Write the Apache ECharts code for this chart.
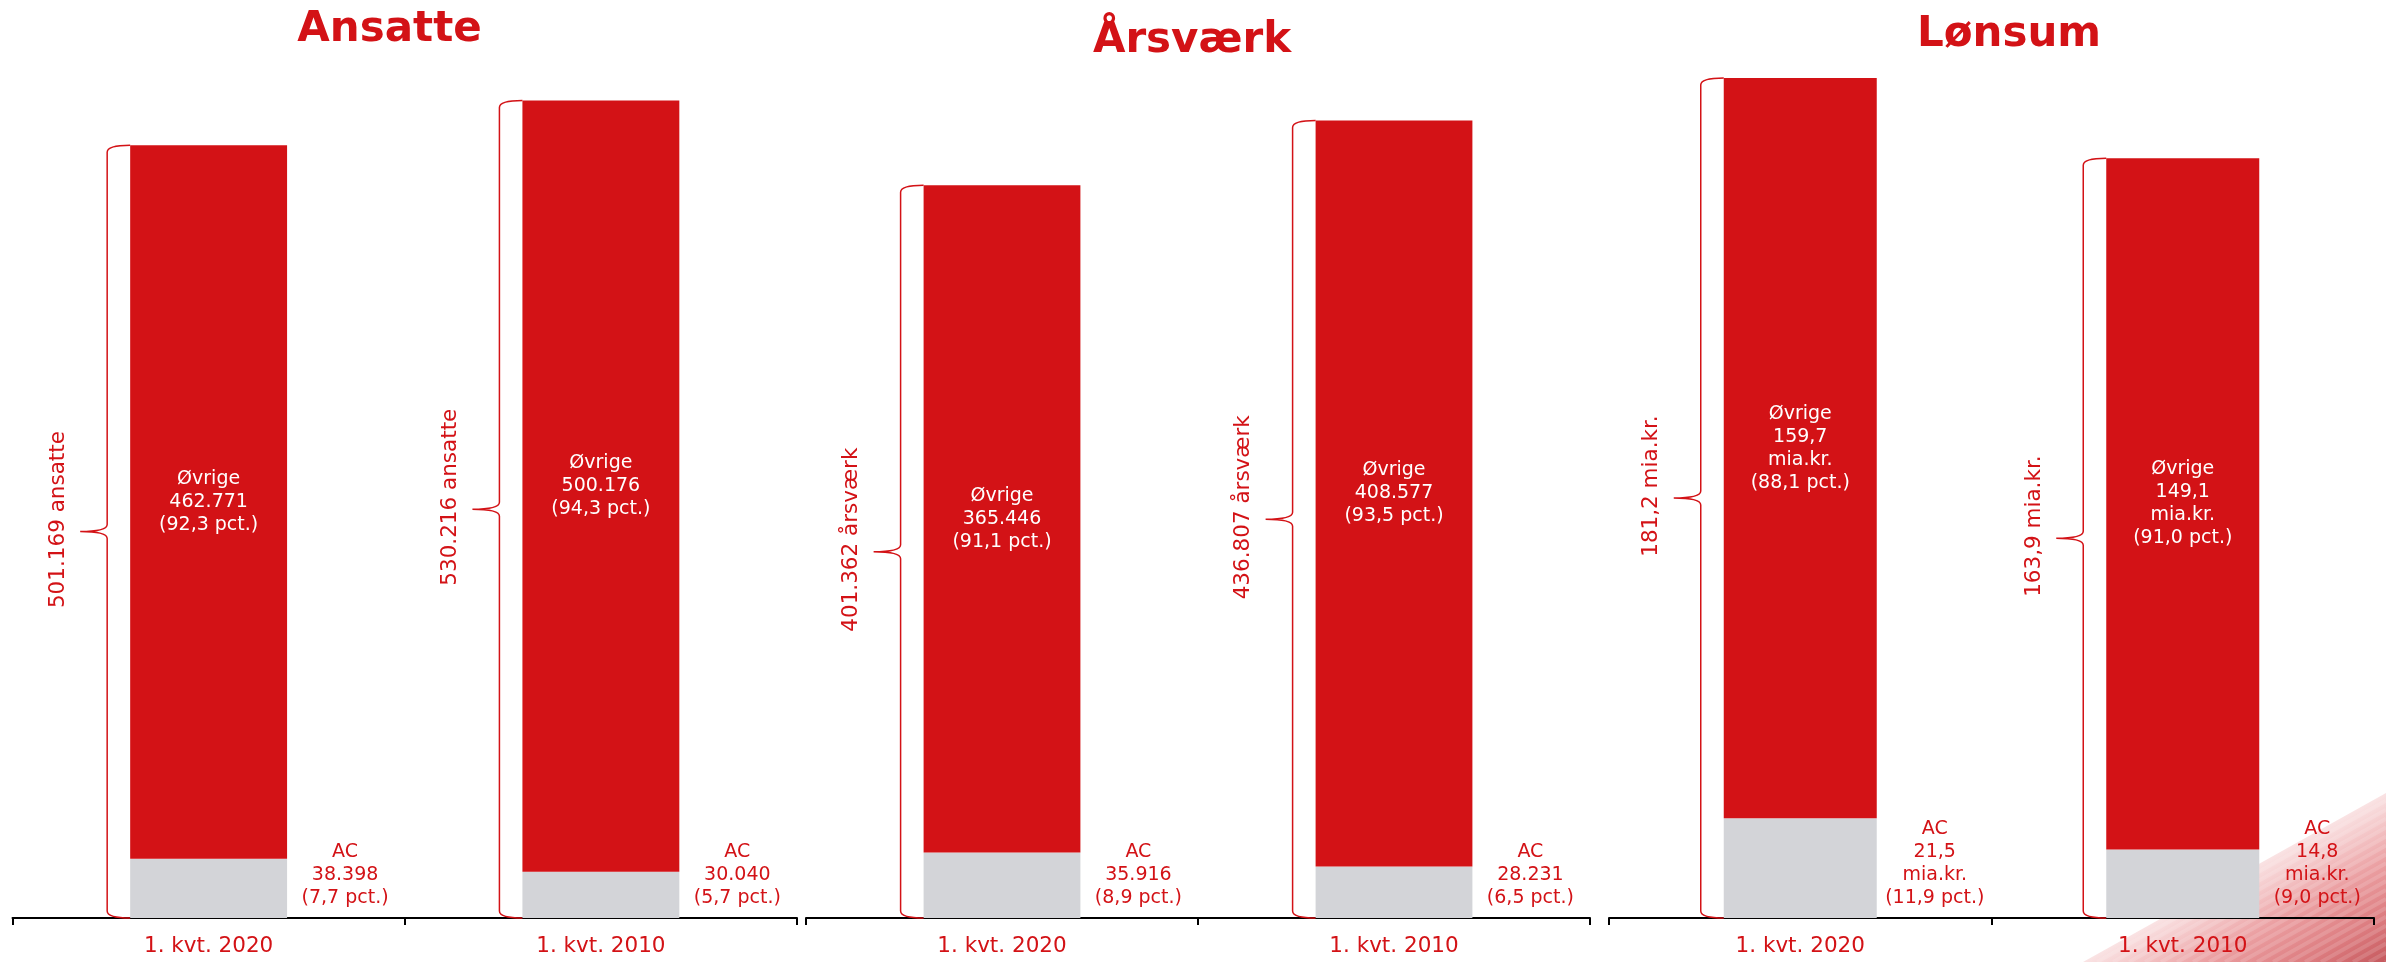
<!DOCTYPE html>
<html>
<head>
<meta charset="utf-8">
<script src="https://cdn.jsdelivr.net/npm/echarts@6/dist/echarts.min.js"></script>
<style>
  html, body { margin: 0; padding: 0; background: #fff; }
  #chart { width: 2386px; height: 962px; }
</style>
</head>
<body>
<div id="chart"></div>
<script>
// Chart Data
const categories = ["1. kvt. 2020", "1. kvt. 2010"];
const panelTitles = ["Ansatte", "Årsværk", "Lønsum"];

const ansatteAC = [38398, 30040];
const ansatteOvrige = [462771, 500176];
const ansatteTotal = [501169, 530216];

const aarsvaerkAC = [35916, 28231];
const aarsvaerkOvrige = [365446, 408577];
const aarsvaerkTotal = [401362, 436807];

const lonsumAC = [21.5, 14.8];
const lonsumOvrige = [159.7, 149.1];
const lonsumTotal = [181.2, 163.9];

// Styles
const RED = "#d31216";
const GRAY = "#d3d4d8";
const FONT = '"DejaVu Sans", Verdana, sans-serif';

const thousands = (v) => String(v).replace(/\B(?=(\d{3})+(?!\d))/g, ".");
const decimal = (v) => v.toFixed(1).replace(".", ",");
const pct = (v, t) => (v / t * 100).toFixed(1).replace(".", ",");

const panels = [
  { ac: ansatteAC, ovr: ansatteOvrige, total: ansatteTotal, fmt: thousands, unit: "ansatte", inUnit: null, yMax: 556400 },
  { ac: aarsvaerkAC, ovr: aarsvaerkOvrige, total: aarsvaerkTotal, fmt: thousands, unit: "årsværk", inUnit: null, yMax: 470000 },
  { ac: lonsumAC, ovr: lonsumOvrige, total: lonsumTotal, fmt: decimal, unit: "mia.kr.", inUnit: "mia.kr.", yMax: 185.1 },
];

const gridPos = [
  { left: 12.5, width: 784.5 },
  { left: 806, width: 784 },
  { left: 1609, width: 765 },
];

const titlePos = [[389.5, 30], [1192, 41], [2009, 35.5]];

function segLabel(name, v, p, i) {
  const lines = [name, p.fmt(v)];
  if (p.inUnit) lines.push(p.inUnit);
  lines.push("(" + pct(v, p.total[i]) + " pct.)");
  return lines.join("\n");
}

// curly brace left of each bar, drawn through the axis scale
function braceRenderer(p) {
  return function (params, api) {
    const top = api.coord([api.value(0), api.value(1)]);
    const bot = api.coord([api.value(0), 0]);
    const bw = api.size([1, 0])[0] * 0.4;
    const bl = top[0] - bw / 2;
    const xl = bl - 23;
    const xt = bl - 50;
    const yt = top[1], yb = bot[1], ym = (yt + yb) / 2;
    const path =
      "M" + bl + " " + yt +
      " Q" + xl + " " + yt + " " + xl + " " + (yt + 7) +
      " L" + xl + " " + (ym - 7) +
      " Q" + xl + " " + ym + " " + xt + " " + ym +
      " Q" + xl + " " + ym + " " + xl + " " + (ym + 7) +
      " L" + xl + " " + (yb - 7) +
      " Q" + xl + " " + yb + " " + bl + " " + yb;
    return {
      type: "group",
      children: [
        {
          type: "path",
          shape: { pathData: path },
          style: { fill: null, stroke: RED, lineWidth: 1.5 },
        },
        {
          type: "text",
          x: bl - 72,
          y: ym - 12,
          rotation: Math.PI / 2,
          style: {
            text: p.fmt(p.total[params.dataIndex]) + " " + p.unit,
            fill: RED,
            font: "21.5px " + FONT,
            align: "center",
            verticalAlign: "middle",
          },
        },
      ],
    };
  };
}

const chart = echarts.init(document.getElementById("chart"), null, { renderer: "canvas" });

const grid = [], xAxis = [], yAxis = [], series = [];

panels.forEach((p, k) => {
  grid.push({
    left: gridPos[k].left,
    width: gridPos[k].width,
    top: 60,
    bottom: 44,
    containLabel: false,
    outerBoundsMode: "none",
  });
  xAxis.push({
    type: "category",
    gridIndex: k,
    data: categories,
    boundaryGap: true,
    axisLine: { show: true, lineStyle: { color: "#000", width: 2 } },
    axisTick: { show: true, length: 7, interval: 0, lineStyle: { color: "#000", width: 2 } },
    axisLabel: { color: RED, fontSize: 21.5, fontFamily: FONT, margin: 17, interval: 0 },
    splitLine: { show: false },
  });
  yAxis.push({
    type: "value",
    gridIndex: k,
    min: 0,
    max: p.yMax,
    show: false,
    splitLine: { show: false },
  });
  series.push({
    name: "AC",
    type: "bar",
    xAxisIndex: k,
    yAxisIndex: k,
    stack: "s" + k,
    barWidth: "40%",
    itemStyle: { color: GRAY },
    label: {
      show: true,
      position: ["100%", "100%"],
      offset: [58, -9],
      align: "center",
      verticalAlign: "bottom",
      color: RED,
      fontSize: 19,
      lineHeight: 22.7,
      fontFamily: FONT,
      formatter: (d) => segLabel("AC", d.value, p, d.dataIndex),
    },
    data: p.ac,
  });
  series.push({
    name: "Øvrige",
    type: "bar",
    xAxisIndex: k,
    yAxisIndex: k,
    stack: "s" + k,
    barWidth: "40%",
    itemStyle: { color: RED },
    label: {
      show: true,
      position: "inside",
      color: "#fff",
      fontSize: 19,
      lineHeight: 23,
      fontFamily: FONT,
      formatter: (d) => segLabel("Øvrige", d.value, p, d.dataIndex),
    },
    data: p.ovr,
  });
  series.push({
    type: "custom",
    xAxisIndex: k,
    yAxisIndex: k,
    renderItem: braceRenderer(p),
    silent: true,
    data: p.total.map((t, j) => [j, t]),
  });
});

// corner decoration (slide background)
const graphic = [
  {
    type: "polygon",
    z: -10,
    silent: true,
    shape: { points: [[2386, 793], [2386, 962], [2083, 962]] },
    style: {
      fill: new echarts.graphic.LinearGradient(2314, 833, 2386, 962, [
        { offset: 0, color: "rgba(220,70,75,0.15)" },
        { offset: 0.4, color: "rgba(215,65,70,0.5)" },
        { offset: 0.75, color: "rgba(205,70,75,0.72)" },
        { offset: 1, color: "rgba(190,70,75,0.9)" },
      ], true),
    },
  },
];
for (let t = 14; t < 303; t += 16) {
  graphic.push({
    type: "line",
    z: -9,
    silent: true,
    shape: { x1: 2083 + t, y1: 962, x2: 2386, y2: 962 - 0.5578 * (303 - t) },
    style: { stroke: "rgba(255,255,255,0.14)", lineWidth: 4 },
  });
}
panelTitles.forEach((t, k) => {
  graphic.push({
    type: "text",
    x: titlePos[k][0],
    y: titlePos[k][1],
    style: {
      text: t,
      fill: RED,
      font: "bold 42px " + FONT,
      align: "center",
      verticalAlign: "middle",
    },
  });
});

chart.setOption({
  animation: false,
  backgroundColor: "#fff",
  tooltip: { show: false },
  legend: { show: false },
  grid: grid,
  xAxis: xAxis,
  yAxis: yAxis,
  series: series,
  graphic: graphic,
});
</script>
</body>
</html>
